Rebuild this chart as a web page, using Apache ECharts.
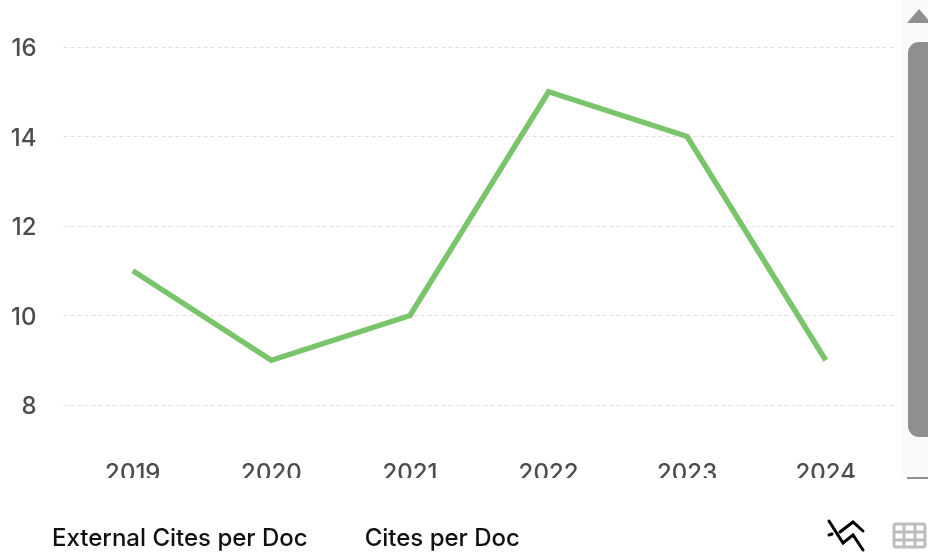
<!DOCTYPE html>
<html>
<head>
    <meta charset="utf-8">
    <script src="https://cdn.jsdelivr.net/npm/echarts@6/dist/echarts.min.js"></script>
    <style>
        html, body { margin: 0; padding: 0; background: #fff; }
    </style>
</head>
<body>
    <div id="main" style="width: 928px;height:556px;"></div>
    <script type="text/javascript">
        var years = ['2019', '2020', '2021', '2022', '2023', '2024'];
        var citesPerDoc = [11, 9, 10, 15, 14, 9];
        var externalCitesPerDoc = [];
        var legendNames = ['External Cites per Doc', 'Cites per Doc'];

        var myChart = echarts.init(document.getElementById('main'));
        var fontName = 'Inter';
        var iconLine = { stroke: '#000', lineWidth: 3, fill: null, lineCap: 'round' };
        var iconGrid = { stroke: '#bdbdbd', lineWidth: 3, fill: null };

        var option = {
            animation: false,
            grid: { left: 63.5, right: 33, top: 47, height: 358 },
            legend: {
                data: legendNames,
                left: 42,
                top: 522,
                icon: 'none',
                itemWidth: 0,
                itemHeight: 0,
                itemGap: 52,
                textStyle: { fontFamily: fontName, fontSize: 24, fontWeight: 500, color: '#111' }
            },
            xAxis: {
                type: 'category',
                data: years,
                axisLine: { show: false },
                axisTick: { show: false },
                axisLabel: { fontFamily: fontName, fontSize: 24, fontWeight: 500, color: '#4d4d4d', margin: 57 }
            },
            yAxis: {
                type: 'value',
                min: 8,
                max: 16,
                interval: 2,
                axisLine: { show: false },
                axisTick: { show: false },
                axisLabel: {
                    margin: 27,
                    formatter: '{v|{value}}',
                    rich: {
                        v: { fontFamily: fontName, fontSize: 24, fontWeight: 500, color: '#4d4d4d', padding: [4, 0, 0, 0] }
                    }
                },
                splitLine: { lineStyle: { type: [4, 3], color: '#e0e0e0', width: 1 } }
            },
            series: [
                {
                    name: legendNames[0],
                    type: 'line',
                    data: externalCitesPerDoc,
                    showSymbol: false
                },
                {
                    name: legendNames[1],
                    type: 'line',
                    data: citesPerDoc,
                    showSymbol: false,
                    lineStyle: { color: '#7ac56c', width: 5.5, join: 'miter' },
                    itemStyle: { color: '#7ac56c' }
                }
            ],
            graphic: [
                // cuts the x labels off at the bottom, like the reference
                { type: 'rect', z: 50, shape: { x: 60, y: 478, width: 830, height: 30 }, style: { fill: '#fff' } },
                // scrollbar
                { type: 'rect', z: 40, shape: { x: 901, y: 0, width: 27, height: 478 }, style: { fill: '#fafafa' } },
                { type: 'polygon', z: 41, shape: { points: [[907, 23], [919, 9], [931, 23]] }, style: { fill: '#8f8f8f' } },
                { type: 'rect', z: 41, shape: { x: 908, y: 42, width: 32, height: 395, r: 11 }, style: { fill: '#8f8f8f' } },
                { type: 'rect', z: 41, shape: { x: 907, y: 477, width: 21, height: 2 }, style: { fill: '#8f8f8f' } },
                // chart switch icon
                { type: 'polyline', z: 41, shape: { points: [[829, 521], [843, 543], [853, 535], [863, 550]] }, style: iconLine },
                { type: 'polyline', z: 41, shape: { points: [[840, 532], [853, 522], [863, 531]] }, style: iconLine },
                { type: 'polyline', z: 41, shape: { points: [[829, 535], [832, 534]] }, style: iconLine },
                // table switch icon
                { type: 'rect', z: 41, shape: { x: 894, y: 524, width: 31, height: 23, r: 2 }, style: iconGrid },
                { type: 'polyline', z: 41, shape: { points: [[894, 532], [925, 532]] }, style: iconGrid },
                { type: 'polyline', z: 41, shape: { points: [[894, 540], [925, 540]] }, style: iconGrid },
                { type: 'polyline', z: 41, shape: { points: [[904, 524], [904, 547]] }, style: iconGrid },
                { type: 'polyline', z: 41, shape: { points: [[915, 524], [915, 547]] }, style: iconGrid }
            ]
        };
        myChart.setOption(option);
    </script>
</body>
</html>
